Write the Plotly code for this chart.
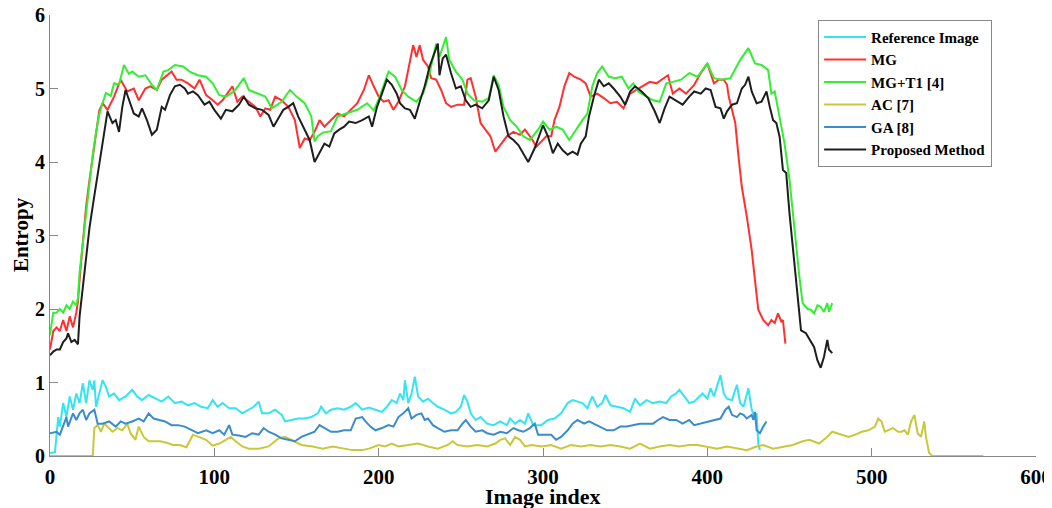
import plotly.graph_objects as go

# ---------------- data ----------------
ref_x = [0,3,5,6,8,10,12,14,16,18,20,22,24,26,27,28,30,32,34,36,39,42,46,50,53,56,60,64,68,72,76,80,84,88,92,96,99,102,105,109,113,117,121,124,127,129,133,137,141,143,147,151,155,159,163,165,168,171,175,179,183,186,190,194,198,202,205,208,211,213,215,216,218,220,222,224,227,230,233,236,240,244,247,250,252,254,256,259,262,266,270,274,278,280,283,286,289,291,294,299,303,307,311,315,318,321,324,327,330,333,336,338,341,345,349,353,356,359,363,367,371,375,378,381,383,386,389,392,394,397,400,402,404,406,408,410,412,415,418,420,422,425,427,429,430,431,432]
ref_y = [0.04,0.05,0.53,0.40,0.72,0.53,0.81,0.63,0.85,0.72,0.99,0.72,1.03,0.90,1.03,0.67,0.85,1.03,0.94,0.81,0.85,0.76,0.81,0.90,0.81,0.76,0.83,0.79,0.74,0.81,0.72,0.74,0.69,0.72,0.67,0.65,0.76,0.67,0.72,0.65,0.65,0.58,0.63,0.67,0.74,0.58,0.58,0.63,0.56,0.47,0.49,0.51,0.51,0.53,0.58,0.67,0.58,0.63,0.65,0.63,0.67,0.72,0.63,0.66,0.63,0.60,0.67,0.76,0.72,0.85,0.76,1.03,0.72,0.85,1.08,0.81,0.74,0.78,0.72,0.67,0.63,0.58,0.60,0.67,0.83,0.74,0.58,0.49,0.53,0.44,0.42,0.47,0.42,0.51,0.44,0.49,0.44,0.58,0.42,0.42,0.49,0.51,0.58,0.72,0.76,0.74,0.72,0.65,0.81,0.67,0.72,0.83,0.69,0.67,0.65,0.60,0.78,0.69,0.76,0.72,0.74,0.72,0.81,0.85,0.90,0.81,0.72,0.74,0.78,0.85,0.78,0.92,0.81,0.97,1.10,0.85,0.78,0.76,0.97,0.72,0.67,0.92,0.63,0.53,0.58,0.17,0.08]

mg_x = [0,2,4,6,8,10,12,14,16,17,18,20,22,24,26,28,30,32,35,39,43,47,51,54,58,61,65,68,71,74,77,80,84,88,91,95,99,102,105,108,111,114,117,121,125,128,131,134,137,141,145,149,152,155,158,161,164,167,171,175,179,183,187,191,194,197,200,203,206,209,212,216,219,221,223,225,227,230,232,235,238,241,244,248,252,254,256,259,262,265,268,271,274,278,282,286,289,293,296,299,302,305,307,310,313,316,319,323,326,329,333,337,341,345,349,353,357,361,365,369,373,376,379,383,387,392,396,400,404,407,410,412,413,415,417,419,421,424,427,429,431,434,437,439,441,443,445,446,447.5]
mg_y = [1.45,1.70,1.75,1.70,1.85,1.70,1.90,1.75,1.95,2.10,2.40,2.90,3.40,3.75,4.05,4.40,4.70,4.80,4.71,4.89,5.12,4.96,5.00,4.84,5.00,5.03,4.98,5.12,5.18,5.23,5.12,5.12,5.07,5.00,5.12,4.91,4.84,4.78,4.84,4.93,5.03,4.82,4.89,4.82,4.75,4.62,4.73,4.71,4.89,4.84,4.75,4.57,4.19,4.32,4.30,4.41,4.57,4.48,4.57,4.66,4.62,4.71,4.80,4.98,5.18,5.03,4.89,4.82,4.84,4.71,4.82,5.03,5.39,5.59,5.43,5.59,5.39,5.30,5.14,5.12,4.98,4.80,4.75,4.78,4.78,5.12,5.14,4.89,4.53,4.44,4.35,4.14,4.23,4.35,4.41,4.37,4.44,4.32,4.21,4.28,4.35,4.35,4.57,4.75,5.03,5.21,5.16,5.12,5.07,4.89,4.93,4.87,4.80,4.82,4.73,4.93,4.98,5.03,5.09,5.07,5.14,5.18,4.93,5.00,4.93,5.05,5.21,5.34,5.07,5.12,5.12,5.05,4.89,4.71,4.53,4.07,3.66,3.26,2.80,2.39,1.99,1.85,1.78,1.85,1.81,1.94,1.83,1.85,1.53]

mgt1_x = [0,2,4,6,8,10,12,14,16,17,18,20,22,24,26,28,30,32,34,37,39,42,45,48,50,54,58,62,65,69,72,76,81,85,90,95,99,103,107,112,115,118,121,125,131,135,138,141,146,150,155,159,161,163,166,171,175,181,187,193,197,200,202,206,210,214,218,223,227,231,235,237,241,243,247,251,254,258,263,267,270,273,276,280,284,288,292,297,300,304,308,312,316,320,324,327,330,333,336,340,344,348,352,355,358,363,367,371,375,379,384,389,394,400,404,408,414,420,425,429,433,437,439,441,444,447,450,453,456,458,461,463,465,467,469,471,473,474,476]
mgt1_y = [1.65,1.95,1.95,2.00,1.95,2.05,2.00,2.10,2.05,2.15,2.50,2.90,3.30,3.75,4.10,4.40,4.65,4.80,4.94,4.90,5.07,5.05,5.32,5.20,5.23,5.16,5.18,5.05,4.98,5.23,5.25,5.32,5.30,5.23,5.18,5.16,5.07,4.91,4.89,4.96,5.05,5.14,4.98,4.94,4.89,4.73,4.78,4.82,4.98,4.89,4.80,4.62,4.28,4.35,4.40,4.42,4.62,4.67,4.71,4.80,4.70,4.85,4.98,5.23,5.16,4.98,4.89,4.82,4.93,5.21,5.61,5.43,5.70,5.39,5.23,5.12,4.93,4.84,4.82,4.87,5.18,5.05,4.75,4.57,4.48,4.35,4.30,4.44,4.55,4.44,4.48,4.44,4.30,4.44,4.57,4.66,5.03,5.21,5.30,5.16,5.14,5.16,5.00,5.07,4.96,4.89,4.84,4.82,5.07,5.09,5.12,5.21,5.16,5.34,5.14,5.12,5.14,5.39,5.55,5.34,5.32,5.25,4.93,4.96,4.62,4.25,3.76,3.07,2.44,2.08,2.00,1.99,1.94,2.05,2.03,1.96,2.08,1.96,2.08]

ac_x = [0,26,27,29,31,33,35,38,41,44,47,49,52,54,57,60,64,67,71,75,79,83,87,91,95,99,103,107,110,113,117,121,127,133,139,143,147,153,160,166,172,178,184,190,194,200,204,208,212,218,224,230,236,242,245,248,254,260,266,271,274,277,280,283,286,289,293,299,305,311,317,323,329,335,341,347,353,359,365,371,377,383,389,394,400,406,412,418,424,430,434,440,446,452,458,462,468,472,476,479,482,486,490,494,498,502,504,506,508,510,513,516,518,520,522,524,526,528,530,532,533,535,537,568]
ac_y = [0.00,0.00,0.38,0.42,0.33,0.44,0.40,0.33,0.38,0.35,0.44,0.31,0.22,0.40,0.26,0.20,0.20,0.20,0.18,0.15,0.15,0.12,0.29,0.26,0.22,0.14,0.17,0.22,0.26,0.20,0.13,0.10,0.10,0.13,0.24,0.26,0.22,0.15,0.13,0.10,0.13,0.10,0.08,0.08,0.10,0.15,0.13,0.17,0.13,0.15,0.17,0.13,0.10,0.15,0.20,0.15,0.13,0.15,0.13,0.17,0.22,0.24,0.15,0.26,0.22,0.13,0.15,0.13,0.15,0.10,0.15,0.13,0.15,0.13,0.15,0.13,0.10,0.17,0.10,0.13,0.15,0.13,0.15,0.15,0.13,0.10,0.13,0.10,0.08,0.13,0.15,0.10,0.13,0.15,0.20,0.22,0.17,0.24,0.33,0.31,0.29,0.26,0.29,0.33,0.35,0.40,0.51,0.47,0.33,0.35,0.38,0.33,0.33,0.35,0.29,0.47,0.56,0.31,0.26,0.47,0.26,0.04,0.00,0.00]

ga_x = [0,4,6,8,10,11,14,16,18,20,22,24,27,29,32,36,40,43,46,50,54,57,60,63,66,70,74,78,82,86,90,95,99,103,106,109,111,115,119,123,127,130,133,137,141,145,149,153,157,161,164,167,171,175,179,183,186,190,192,195,198,202,206,209,212,215,218,220,223,226,228,230,233,236,240,244,248,251,253,256,259,263,266,270,274,278,282,285,288,292,295,297,301,305,308,311,315,318,321,325,328,331,335,339,343,347,351,355,359,363,367,370,373,377,381,385,389,392,396,400,404,408,411,413,415,418,420,422,424,427,428,429,430,432,434,436]
ga_y = [0.31,0.33,0.29,0.40,0.53,0.40,0.58,0.49,0.58,0.63,0.49,0.58,0.63,0.44,0.44,0.47,0.40,0.47,0.44,0.47,0.51,0.47,0.58,0.51,0.49,0.47,0.42,0.42,0.40,0.35,0.31,0.35,0.31,0.35,0.29,0.42,0.29,0.28,0.26,0.31,0.29,0.38,0.33,0.29,0.24,0.22,0.20,0.26,0.29,0.33,0.42,0.38,0.33,0.33,0.35,0.35,0.51,0.53,0.47,0.40,0.35,0.38,0.42,0.40,0.53,0.58,0.65,0.51,0.56,0.58,0.49,0.51,0.42,0.38,0.33,0.35,0.35,0.44,0.49,0.40,0.33,0.35,0.31,0.29,0.33,0.31,0.38,0.35,0.33,0.38,0.44,0.29,0.29,0.29,0.22,0.26,0.35,0.44,0.49,0.44,0.47,0.44,0.40,0.35,0.35,0.40,0.40,0.42,0.44,0.44,0.44,0.49,0.53,0.49,0.49,0.44,0.49,0.42,0.44,0.47,0.49,0.51,0.63,0.67,0.56,0.53,0.58,0.56,0.51,0.56,0.49,0.60,0.35,0.31,0.40,0.47]

prop_x = [0,2,4,6,8,10,11,13,15,17,18,20,22,24,26,28,30,32,33,35,38,40,42,44,46,48,51,54,56,59,62,65,68,70,73,76,79,82,84,87,90,94,97,100,104,107,111,115,118,121,125,129,133,136,139,142,145,148,151,155,158,161,164,167,170,173,176,179,182,186,190,194,196,199,202,205,208,211,213,216,219,222,225,228,231,234,236,237,239,241,244,247,250,253,256,259,263,267,270,273,276,279,282,285,288,291,295,298,300,303,306,309,312,315,318,321,323,326,328,331,334,337,340,343,347,350,353,356,360,364,368,371,374,377,381,385,389,392,396,399,402,405,408,410,412,415,418,421,423,425,427,430,433,436,438,440,442,444,446,448,450,452,454,456,457,460,462,465,467,469,471,473,474,476]
prop_y = [1.37,1.42,1.45,1.45,1.55,1.60,1.67,1.55,1.58,1.52,1.90,2.30,2.67,3.10,3.40,3.70,3.95,4.30,4.44,4.69,4.53,4.57,4.41,4.75,4.98,4.84,4.66,4.62,4.73,4.57,4.37,4.44,4.75,4.71,4.91,5.03,5.05,5.00,4.93,4.96,4.91,4.78,4.82,4.71,4.59,4.71,4.69,4.78,4.89,4.78,4.73,4.71,4.64,4.48,4.59,4.71,4.75,4.80,4.62,4.44,4.30,4.00,4.12,4.25,4.21,4.39,4.44,4.48,4.55,4.53,4.57,4.62,4.48,4.75,4.93,5.12,5.05,4.93,4.80,4.73,4.71,4.59,4.82,5.03,5.30,5.50,5.61,5.18,5.41,5.46,5.21,5.00,5.03,4.84,4.75,4.78,4.73,4.84,5.16,4.98,4.62,4.35,4.30,4.23,4.12,4.00,4.19,4.39,4.50,4.35,4.12,4.25,4.16,4.10,4.14,4.10,4.25,4.35,4.62,4.89,5.12,5.03,5.07,5.00,4.89,4.78,4.96,5.03,4.96,4.87,4.69,4.53,4.73,4.89,4.84,4.78,4.89,4.96,4.93,5.00,4.98,4.75,4.73,4.59,4.69,4.78,4.80,5.00,5.05,5.16,4.96,4.80,4.82,4.96,4.75,4.57,4.53,4.34,3.89,3.85,3.30,2.85,2.35,1.90,1.71,1.67,1.60,1.48,1.30,1.20,1.35,1.58,1.45,1.40]

series = [
    ("Reference Image", ref_x, ref_y, "#33E4F2"),
    ("MG", mg_x, mg_y, "#FF3030"),
    ("MG+T1 [4]", mgt1_x, mgt1_y, "#33EE33"),
    ("AC [7]", ac_x, ac_y, "#C8C83A"),
    ("GA [8]", ga_x, ga_y, "#3A8CCB"),
    ("Proposed Method", prop_x, prop_y, "#1E1E1E"),
]

FONT = "Liberation Serif"

fig = go.Figure()
for name, xs, ys, col in series:
    fig.add_trace(go.Scatter(x=xs, y=ys, mode="lines", name=name,
                             line=dict(color=col, width=2)))

# the page body adds an 8px offset, so the figure is sized/placed to compensate
fig.update_layout(
    width=1044, height=500,
    margin=dict(l=42, r=16, t=7, b=52, autoexpand=False),
    paper_bgcolor="white", plot_bgcolor="white",
    font=dict(family=FONT, color="black"),
    showlegend=True,
    legend=dict(x=0.779, y=0.989, xanchor="left", yanchor="top",
                bgcolor="white", bordercolor="#888888", borderwidth=1,
                itemwidth=42,
                font=dict(family=FONT, size=15, weight="bold", color="black")),
    annotations=[
        dict(text="Image index", xref="paper", yref="paper", x=0.5, y=-0.092,
             xanchor="center", yanchor="middle", showarrow=False,
             font=dict(family=FONT, size=22, weight="bold", color="black")),
        dict(text="Entropy", xref="paper", yref="paper", x=-0.0294, y=0.501,
             xanchor="center", yanchor="middle", showarrow=False, textangle=-90,
             font=dict(family=FONT, size=21, weight="bold", color="black")),
    ],
)
fig.update_xaxes(range=[0, 600], dtick=100, tick0=0, automargin=False,
                 showline=True, linecolor="#888888", linewidth=1, mirror=False,
                 ticks="inside", ticklen=8, tickcolor="#888888",
                 showgrid=False, zeroline=False, ticklabeloverflow="allow",
                 ticklabelstandoff=2,
                 tickfont=dict(family=FONT, size=21, weight="bold"))
fig.update_yaxes(range=[0, 6], dtick=1, tick0=0, automargin=False,
                 showline=True, linecolor="#888888", linewidth=1, mirror=False,
                 ticks="inside", ticklen=8, tickcolor="#888888",
                 showgrid=False, zeroline=False, ticklabeloverflow="allow",
                 tickfont=dict(family=FONT, size=20, weight="bold"))

fig.write_html("out.html")
